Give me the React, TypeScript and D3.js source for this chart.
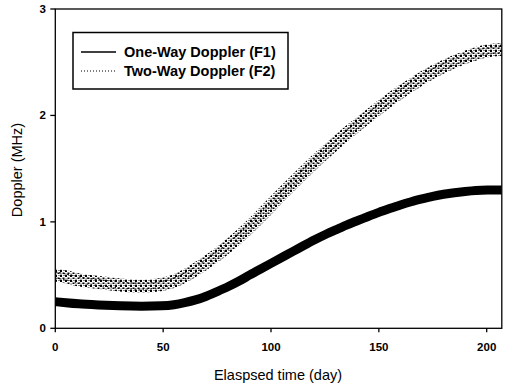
import React from "react";
import * as d3 from "d3";

const days = [0, 5, 10, 20, 30, 40, 50, 55, 60, 65, 70, 75, 80, 85, 90, 95, 100, 105, 110, 115, 120, 125, 130, 135, 140, 145, 150, 155, 160, 165, 170, 175, 180, 185, 190, 195, 200, 207];
const oneWay = [0.25, 0.24, 0.23, 0.22, 0.21, 0.205, 0.21, 0.22, 0.24, 0.265, 0.3, 0.345, 0.39, 0.44, 0.5, 0.555, 0.61, 0.665, 0.72, 0.775, 0.83, 0.88, 0.925, 0.97, 1.01, 1.05, 1.09, 1.125, 1.16, 1.19, 1.215, 1.24, 1.26, 1.275, 1.285, 1.295, 1.3, 1.3];
const twoWay = [0.5, 0.485, 0.455, 0.43, 0.405, 0.39, 0.41, 0.44, 0.49, 0.55, 0.62, 0.69, 0.77, 0.855, 0.95, 1.05, 1.155, 1.26, 1.36, 1.46, 1.56, 1.65, 1.74, 1.83, 1.91, 1.99, 2.07, 2.145, 2.22, 2.285, 2.35, 2.41, 2.46, 2.505, 2.545, 2.58, 2.61, 2.62];
const xTicks = [0, 50, 100, 150, 200];
const yTicks = [0, 1, 2, 3];
const legendLabels = ["One-Way Doppler (F1)", "Two-Way Doppler (F2)"];

export default function App() {
  const W = 505, H = 387;
  const x = d3.scaleLinear().domain([0, 200]).range([55.3, 486.7]);
  const y = d3.scaleLinear().domain([0, 3]).range([328.3, 9]);
  const x0 = x(0), x1 = x(207), y0 = y(0), y1 = y(3);
  const line = d3.line<number>().x((_, i) => x(days[i])).y((d) => y(d)).curve(d3.curveBasis);
  const font = "'Liberation Sans', Arial, sans-serif";
  return (
    <svg width={W} height={H} style={{ position: "absolute", left: 0, top: 0, background: "#fff" }}>
      <defs>
        <pattern id="speck" width="5" height="5" patternUnits="userSpaceOnUse">
          <rect x="0" y="0" width="2" height="2" fill="#000" />
          <rect x="2.5" y="2.5" width="2" height="1.5" fill="#000" />
          <rect x="3.5" y="0" width="1" height="1" fill="#111" />
          <rect x="0.5" y="3.5" width="1" height="1.2" fill="#111" />
        </pattern>
        <clipPath id="plot">
          <rect x={x0} y={y1} width={x1 - x0} height={y0 - y1} />
        </clipPath>
      </defs>
      <g clipPath="url(#plot)">
        <path d={line(twoWay) || ""} fill="none" stroke="url(#speck)" strokeWidth={13} />
        <path d={line(twoWay) || ""} fill="none" stroke="#000" strokeWidth={1.2} strokeDasharray="2 2" opacity={0.85} transform="translate(0,-3)" />
        <path d={line(twoWay) || ""} fill="none" stroke="#000" strokeWidth={1.2} strokeDasharray="1.5 2.5" opacity={0.85} transform="translate(0,3)" />
        <path d={line(oneWay) || ""} fill="none" stroke="#000" strokeWidth={9} />
      </g>
      <rect x={x0} y={y1} width={x1 - x0} height={y0 - y1} fill="none" stroke="#000" strokeWidth={1.3} />
      {xTicks.map((t) => (
        <g key={"x" + t}>
          <line x1={x(t)} x2={x(t)} y1={y0} y2={y0 + 4} stroke="#000" strokeWidth={1.3} />
          <text x={x(t)} y={351} textAnchor="middle" fontFamily={font} fontWeight="bold" fontSize={11.5} fill="#000">{t}</text>
        </g>
      ))}
      {yTicks.map((t) => (
        <g key={"y" + t}>
          <line x1={x0 - 5} x2={x0} y1={y(t)} y2={y(t)} stroke="#000" strokeWidth={1.3} />
          <text x={46} y={y(t) + 4} textAnchor="end" fontFamily={font} fontWeight="bold" fontSize={11.5} fill="#000">{t}</text>
        </g>
      ))}
      <text x={278} y={380} textAnchor="middle" fontFamily={font} fontSize={14.5} fill="#000">Elaspsed time (day)</text>
      <text transform="translate(22,170) rotate(-90)" textAnchor="middle" fontFamily={font} fontSize={14.5} fill="#000">Doppler (MHz)</text>
      <rect x={73} y={32.5} width={215} height={56.5} fill="#fff" stroke="#000" strokeWidth={1.5} />
      <line x1={81} x2={116} y1={52} y2={52} stroke="#000" strokeWidth={1.6} />
      <line x1={81} x2={116} y1={71} y2={71} stroke="#000" strokeWidth={1} strokeDasharray="1 2" />
      <text x={124} y={57} fontFamily={font} fontWeight="bold" fontSize={14.5} fill="#000">{legendLabels[0]}</text>
      <text x={124} y={76} fontFamily={font} fontWeight="bold" fontSize={14.5} fill="#000">{legendLabels[1]}</text>
    </svg>
  );
}
